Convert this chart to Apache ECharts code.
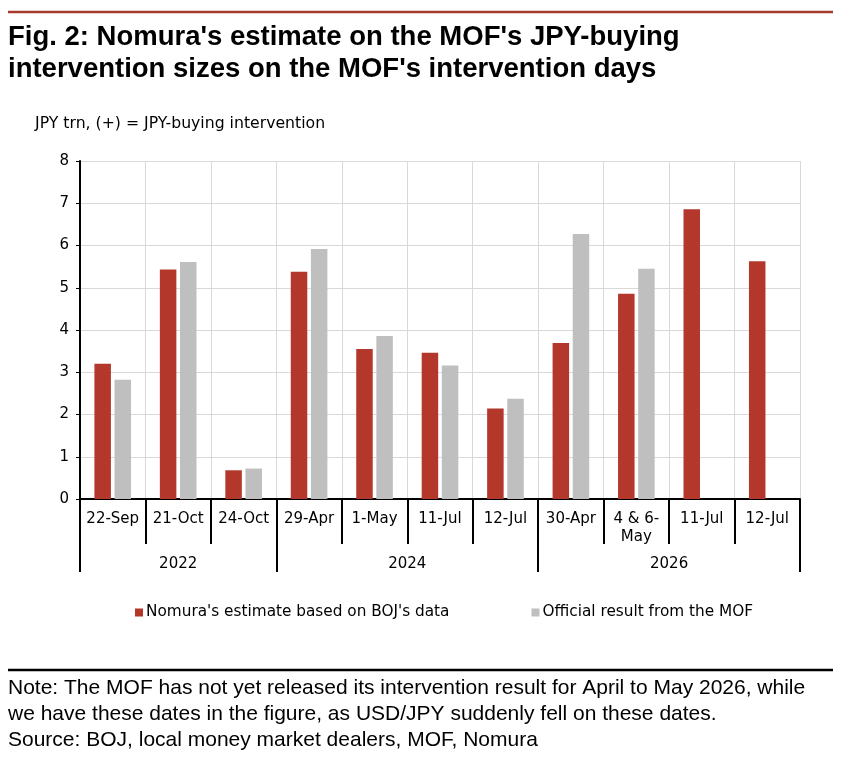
<!DOCTYPE html>
<html>
<head>
<meta charset="utf-8">
<script src="https://cdn.jsdelivr.net/npm/echarts@6/dist/echarts.min.js"></script>
<style>
html,body{margin:0;padding:0;background:#fff;}
#chart{width:841px;height:760px;}
</style>
</head>
<body>
<div id="chart"></div>
<script>
// ---- data ----
const categories = ['22-Sep','21-Oct','24-Oct','29-Apr','1-May','11-Jul','12-Jul','30-Apr','4 & 6-\nMay','11-Jul','12-Jul'];
const nomuraEstimate = [3.2, 5.43, 0.68, 5.38, 3.55, 3.46, 2.14, 3.69, 4.86, 6.86, 5.63];
const officialMOF = [2.82, 5.61, 0.72, 5.92, 3.86, 3.16, 2.37, 6.27, 5.45, null, null];
const years = ['2022', '2024', '2026'];
const yearSpans = [3, 4, 4];
const yTicks = [0, 1, 2, 3, 4, 5, 6, 7, 8];
const seriesNames = ["Nomura's estimate based on BOJ's data", 'Official result from the MOF'];

// year group boundaries & centres (in category units)
const yearBounds = [0];
const yearCentres = [];
yearSpans.forEach((s, i) => { yearCentres.push(yearBounds[i] + s / 2); yearBounds.push(yearBounds[i] + s); });

const RED = '#B3372B';
const GREY = '#BFBFBF';
const AXISFONT = 'DejaVu Sans';
const AXISSIZE = 15;

const chart = echarts.init(document.getElementById('chart'), null, {renderer: 'canvas'});
chart.setOption({
  animation: false,
  backgroundColor: '#fff',
  title: [
    {
      text: "Fig. 2: Nomura's estimate on the MOF's JPY-buying\nintervention sizes on the MOF's intervention days",
      left: 3, top: 16,
      textStyle: {fontFamily: 'Liberation Sans', fontWeight: 'bold', fontSize: 27.5, lineHeight: 32, color: '#000'}
    },
    {
      text: 'JPY trn, (+) = JPY-buying intervention',
      left: 30, top: 111,
      textStyle: {fontFamily: AXISFONT, fontWeight: 'normal', fontSize: 15.7, color: '#000'}
    },
    {
      text: 'Note: The MOF has not yet released its intervention result for April to May 2026, while\nwe have these dates in the figure, as USD/JPY suddenly fell on these dates.\nSource: BOJ, local money market dealers, MOF, Nomura',
      left: 3, top: 670,
      textStyle: {fontFamily: 'Liberation Sans', fontWeight: 'normal', fontSize: 21, lineHeight: 26, color: '#000'}
    }
  ],
  graphic: [
    {type: 'line', shape: {x1: 8, y1: 12, x2: 833, y2: 12}, style: {stroke: '#A63A2E', lineWidth: 2.5}},
    {type: 'line', shape: {x1: 8, y1: 670, x2: 833, y2: 670}, style: {stroke: '#000', lineWidth: 2.5}}
  ],
  legend: {
    left: 130, top: 600,
    itemWidth: 8, itemHeight: 8, itemGap: 82,
    icon: 'rect',
    textStyle: {fontFamily: AXISFONT, fontSize: 15.3, color: '#000', padding: [0, 0, 0, -2]},
    data: seriesNames
  },
  grid: {left: 80, right: 41, top: 161, bottom: 261, containLabel: false},
  xAxis: [
    {
      type: 'category',
      data: categories,
      position: 'bottom',
      axisLine: {show: true, lineStyle: {color: '#000', width: 2}},
      axisTick: {show: true, interval: 0, length: 45, lineStyle: {color: '#000', width: 2}},
      axisLabel: {interval: 0, margin: 11, fontFamily: AXISFONT, fontSize: AXISSIZE, color: '#000', lineHeight: 18},
      splitLine: {show: true, interval: 0, lineStyle: {color: '#D9D9D9', width: 1}}
    },
    {
      type: 'value',
      min: 0, max: categories.length,
      position: 'bottom',
      offset: 45,
      axisLine: {show: false},
      axisTick: {show: true, customValues: yearBounds, length: 28, lineStyle: {color: '#000', width: 2}},
      axisLabel: {
        show: true, customValues: yearCentres, margin: 13,
        fontFamily: AXISFONT, fontSize: AXISSIZE, color: '#000',
        formatter: v => { const i = yearCentres.indexOf(v); return i >= 0 ? years[i] : ''; }
      },
      splitLine: {show: false}
    }
  ],
  yAxis: {
    type: 'value',
    min: yTicks[0], max: yTicks[yTicks.length - 1], interval: 1,
    axisLine: {show: true, lineStyle: {color: '#000', width: 2}},
    axisTick: {show: true, length: 4, lineStyle: {color: '#000', width: 1}},
    axisLabel: {margin: 11, fontFamily: AXISFONT, fontSize: AXISSIZE, color: '#000'},
    splitLine: {show: true, lineStyle: {color: '#D9D9D9', width: 1}}
  },
  series: [
    {name: seriesNames[0], type: 'bar', xAxisIndex: 0, data: nomuraEstimate, barWidth: 16.5, barGap: '22%', itemStyle: {color: RED}},
    {name: seriesNames[1], type: 'bar', xAxisIndex: 0, data: officialMOF, barWidth: 16.5, barGap: '22%', itemStyle: {color: GREY}}
  ]
});
</script>
</body>
</html>
